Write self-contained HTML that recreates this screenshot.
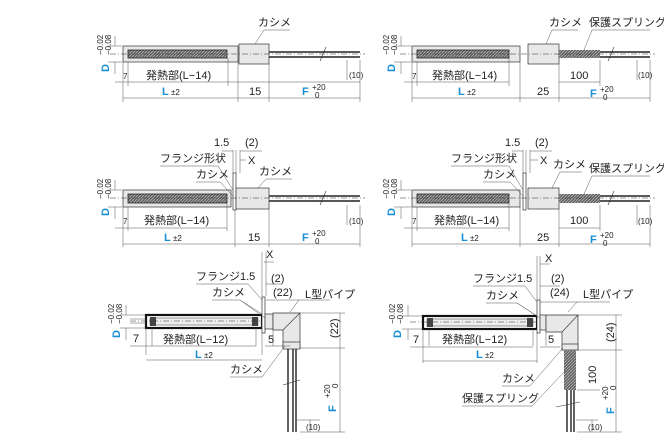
<!DOCTYPE html>
<html><head><meta charset="utf-8"><style>
html,body{margin:0;padding:0;background:#fff;}
svg{display:block;font-family:"Liberation Sans","Noto Sans CJK JP",sans-serif;}
text{font-size:11px;fill:#222;}
.b{fill:#1a8fd6;font-weight:bold;}
.s{font-size:8px;}
.l{stroke:#333;stroke-width:0.6;fill:none;}
.d{stroke:#555;stroke-width:0.5;fill:none;}
.c{stroke:#333;stroke-width:0.5;stroke-dasharray:6 2 1 2;fill:none;}
.g{fill:#e8e8e8;stroke:#333;stroke-width:0.7;}
.k{fill:#444;}
</style></head><body>
<svg width="664" height="447" viewBox="0 0 664 447">
<defs>
<pattern id="h" width="3" height="3" patternUnits="userSpaceOnUse"><rect width="3" height="3" fill="#666"/><path d="M0 3L3 0" stroke="#ccc" stroke-width="0.6"/></pattern>
<marker id="a" markerWidth="6" markerHeight="4" refX="6" refY="2" orient="auto"><path d="M0 0L6 2L0 4z" fill="#444"/></marker>
</defs>

<!-- ============ Panel 1 ============ -->
<g>
<rect x="123" y="46" width="115" height="16" class="g"/>
<rect x="128" y="50" width="99" height="8" fill="url(#h)" stroke="#222" stroke-width="0.8"/>
<rect x="239" y="44" width="30" height="20" class="g"/>
<line x1="269" y1="52" x2="360" y2="52" stroke="#222" stroke-width="1.6"/>
<line x1="269" y1="57" x2="360" y2="57" stroke="#222" stroke-width="1.6"/>
<line x1="110" y1="54" x2="365" y2="54" class="c"/>
<path d="M326 47L320 61" class="l"/>
<text x="258" y="26">カシメ</text><path d="M290 30H264L255 44" class="d"/>
<path d="M123 62V102M128 62V86M228 58V86M238 62V102M269 64V102M360 60V102M347 60V80" class="d"/>
<path d="M115 82H360M123 98H360" class="d"/>
<text x="123" y="79" class="s">7</text>
<text x="146" y="79">発熱部(L−14)</text>
<text x="162" y="95" class="b">L</text><text x="171" y="95" class="s">±2</text>
<text x="249" y="95">15</text>
<text x="302" y="95" class="b">F</text><text x="312" y="90" class="s">+20</text><text x="315" y="98" class="s">0</text>
<text x="349" y="78" class="s">(10)</text>
<path d="M108 46H122M108 62H122M115 36V46M115 62V74" class="d"/>
<text transform="translate(109,72) rotate(-90)" class="b">D</text>
<text transform="translate(103,55) rotate(-90)" class="s">−0.02</text>
<text transform="translate(111,55) rotate(-90)" class="s">−0.08</text>
</g>

<!-- ============ Panel 2 ============ -->
<g>
<rect x="412" y="46" width="108" height="16" class="g"/>
<rect x="417" y="50" width="92" height="8" fill="url(#h)" stroke="#222" stroke-width="0.8"/>
<rect x="528" y="44" width="31" height="20" class="g"/>
<rect x="559" y="50" width="41" height="8" fill="url(#h)"/>
<line x1="600" y1="52" x2="650" y2="52" stroke="#222" stroke-width="1.6"/>
<line x1="600" y1="57" x2="650" y2="57" stroke="#222" stroke-width="1.6"/>
<line x1="400" y1="54" x2="655" y2="54" class="c"/>
<path d="M614 47L608 61" class="l"/>
<text x="549" y="26">カシメ</text><text x="589" y="26">保護スプリング</text>
<path d="M578 30H552L546 44M650 30H592L584 50" class="d"/>
<path d="M412 62V102M417 62V86M509 58V86M520 62V102M559 64V102M600 60V86M650 60V102M637 60V80" class="d"/>
<path d="M404 82H509M559 82H600M412 98H650" class="d"/>
<text x="412" y="79" class="s">7</text>
<text x="432" y="79">発熱部(L−14)</text>
<text x="570" y="79">100</text>
<text x="458" y="95" class="b">L</text><text x="467" y="95" class="s">±2</text>
<text x="537" y="95">25</text>
<text x="590" y="97" class="b">F</text><text x="600" y="92" class="s">+20</text><text x="603" y="100" class="s">0</text>
<text x="638" y="78" class="s">(10)</text>
<path d="M394 46H411M394 62H411M401 36V46M401 62V74" class="d"/>
<text transform="translate(395,72) rotate(-90)" class="b">D</text>
<text transform="translate(389,55) rotate(-90)" class="s">−0.02</text>
<text transform="translate(397,55) rotate(-90)" class="s">−0.08</text>
</g>

<!-- ============ Panel 3 ============ -->
<g>
<rect x="123" y="190" width="108" height="17" class="g"/>
<rect x="128" y="194" width="99" height="9" fill="url(#h)" stroke="#222" stroke-width="0.8"/>
<rect x="233" y="173" width="3" height="37" fill="#fff" stroke="#333" stroke-width="0.7"/>
<rect x="236" y="188" width="33" height="21" class="g"/>
<line x1="269" y1="196" x2="360" y2="196" stroke="#222" stroke-width="1.6"/>
<line x1="269" y1="201" x2="360" y2="201" stroke="#222" stroke-width="1.6"/>
<line x1="110" y1="198" x2="365" y2="198" class="c"/>
<path d="M326 191L320 205" class="l"/>
<text x="214" y="146">1.5</text><text x="245" y="146">(2)</text>
<path d="M233 150V173M236 150V173M240 150V173M222 151H233M240 151H262" class="d"/>
<text x="248" y="164">X</text><path d="M246 160H240" class="d"/>
<text x="160" y="162">フランジ形状</text><text x="196" y="178">カシメ</text>
<text x="259" y="175">カシメ</text>
<path d="M160 166H218L233 190M196 182H220L233 196M292 179H266L258 188" class="d"/>
<path d="M123 207V247M128 207V231M227 203V231M235 210V247M269 209V247M360 205V247M347 205V225" class="d"/>
<path d="M115 228H227M123 244H360" class="d"/>
<text x="123" y="224" class="s">7</text>
<text x="144" y="224">発熱部(L−14)</text>
<text x="164" y="241" class="b">L</text><text x="173" y="241" class="s">±2</text>
<text x="248" y="241">15</text>
<text x="302" y="241" class="b">F</text><text x="312" y="236" class="s">+20</text><text x="315" y="244" class="s">0</text>
<text x="349" y="224" class="s">(10)</text>
</g>

<!-- ============ Panel 4 ============ -->
<g>
<rect x="412" y="190" width="108" height="17" class="g"/>
<rect x="417" y="194" width="92" height="9" fill="url(#h)" stroke="#222" stroke-width="0.8"/>
<rect x="523" y="173" width="3" height="37" fill="#fff" stroke="#333" stroke-width="0.7"/>
<rect x="528" y="188" width="31" height="21" class="g"/>
<rect x="559" y="194" width="41" height="9" fill="url(#h)"/>
<line x1="600" y1="196" x2="650" y2="196" stroke="#222" stroke-width="1.6"/>
<line x1="600" y1="201" x2="650" y2="201" stroke="#222" stroke-width="1.6"/>
<line x1="400" y1="198" x2="655" y2="198" class="c"/>
<path d="M614 191L608 205" class="l"/>
<text x="505" y="146">1.5</text><text x="535" y="146">(2)</text>
<path d="M523 150V173M526 150V173M530 150V173M512 151H523M530 151H552" class="d"/>
<text x="540" y="164">X</text><path d="M538 160H530" class="d"/>
<text x="451" y="162">フランジ形状</text><text x="483" y="178">カシメ</text>
<text x="553" y="168">カシメ</text><text x="589" y="172">保護スプリング</text>
<path d="M451 166H509L523 190M483 182H510L523 196M582 172H560L552 188M650 176H592L584 194" class="d"/>
<path d="M412 207V247M417 207V231M509 203V231M520 207V247M559 209V247M600 205V231M650 205V247M637 205V225" class="d"/>
<path d="M404 228H509M559 228H600M412 244H650" class="d"/>
<text x="412" y="224" class="s">7</text>
<text x="434" y="224">発熱部(L−14)</text>
<text x="570" y="224">100</text>
<text x="461" y="241" class="b">L</text><text x="470" y="241" class="s">±2</text>
<text x="537" y="241">25</text>
<text x="590" y="243" class="b">F</text><text x="600" y="238" class="s">+20</text><text x="603" y="246" class="s">0</text>
<text x="638" y="224" class="s">(10)</text>
<path d="M394 190H411M394 207H411M401 180V190M401 207V219" class="d"/>
<text transform="translate(395,216) rotate(-90)" class="b">D</text>
<text transform="translate(389,199) rotate(-90)" class="s">−0.02</text>
<text transform="translate(397,199) rotate(-90)" class="s">−0.08</text>
<path d="M108 190H122M108 207H122M115 180V190M115 207V219" class="d"/>
<text transform="translate(109,216) rotate(-90)" class="b">D</text>
<text transform="translate(103,199) rotate(-90)" class="s">−0.02</text>
<text transform="translate(111,199) rotate(-90)" class="s">−0.08</text>
</g>

<!-- ============ Panel 5 ============ -->
<g>
<rect x="146" y="315" width="116" height="13" fill="#fff" stroke="#111" stroke-width="2.2"/>
<rect x="150" y="318" width="108" height="7" fill="#eee" stroke="#333" stroke-width="0.5"/>
<rect x="150" y="317" width="6" height="9" class="k"/><rect x="252" y="317" width="6" height="9" class="k"/>
<line x1="130" y1="321" x2="300" y2="321" class="c"/>
<rect x="262" y="297" width="3" height="36" fill="#fff" stroke="#333" stroke-width="0.7"/>
<rect x="265" y="314" width="8" height="15" class="g"/>
<path d="M273 313H300V348H283V330H273Z" class="g"/>
<path d="M283 330L300 313" class="l"/>
<rect x="283" y="342" width="17" height="7" class="g"/>
<path d="M288 349V432M293 349V432M296 349V432" stroke="#222" stroke-width="1.4"/>
<path d="M283 385L300 380" class="l"/>
<text x="266" y="258">X</text><path d="M262 252V297M266 252V296M264 262H274" class="d"/>
<text x="196" y="280">フランジ1.5</text><text x="271" y="282">(2)</text><text x="273" y="296">(22)</text>
<text x="212" y="296">カシメ</text><text x="305" y="298">L型パイプ</text>
<path d="M196 284H248L262 300M212 300H240L265 318M240 300L262 314M300 300H330M266 284H282M266 300H300M299 300L290 312" class="d"/>
<path d="M300 313H345M300 348H345M340 313V432M300 432H345" class="d"/>
<text transform="translate(338,338) rotate(-90)">(22)</text>
<text transform="translate(336,412) rotate(-90)" class="b">F</text><text transform="translate(330,398) rotate(-90)" class="s">+20</text><text transform="translate(338,388) rotate(-90)" class="s">0</text>
<path d="M296 420H320M310 420V432" class="d"/><text x="306" y="430" class="s">(10)</text>
<path d="M146 328V355M152 328V346M256 328V346M262 333V355M273 329V346" class="d"/>
<path d="M130 346H256M265 346H290M146 360H262" class="d"/>
<text x="133" y="342">7</text><text x="163" y="343">発熱部(L−12)</text><text x="268" y="343">5</text>
<text x="195" y="358" class="b">L</text><text x="204" y="358" class="s">±2</text>
<text x="230" y="373">カシメ</text><path d="M230 377H262L285 346" class="d"/>
<path d="M130 319H146M130 323H146" class="d"/>
</g>

<!-- ============ Panel 6 ============ -->
<g>
<rect x="423" y="316" width="114" height="13" fill="#fff" stroke="#111" stroke-width="2.2"/>
<rect x="427" y="319" width="106" height="7" fill="#eee" stroke="#333" stroke-width="0.5"/>
<rect x="427" y="318" width="6" height="9" class="k"/><rect x="527" y="318" width="6" height="9" class="k"/>
<line x1="410" y1="322" x2="578" y2="322" class="c"/>
<rect x="537" y="300" width="3" height="33" fill="#fff" stroke="#333" stroke-width="0.7"/>
<rect x="540" y="315" width="6" height="15" class="g"/>
<path d="M546 315H578V350H562V332H546Z" class="g"/>
<path d="M562 332L578 315" class="l"/>
<rect x="562" y="344" width="16" height="6" class="g"/>
<rect x="564" y="350" width="12" height="40" fill="url(#h)"/>
<path d="M567 390V432M571 390V432M574 390V432" stroke="#222" stroke-width="1.4"/>
<path d="M556 407L580 402" class="l"/>
<text x="545" y="262">X</text><path d="M537 256V300M540 256V300M540 264H550" class="d"/>
<text x="473" y="282">フランジ1.5</text><text x="551" y="282">(2)</text><text x="550" y="296">(24)</text>
<text x="486" y="299">カシメ</text><text x="583" y="298">L型パイプ</text>
<path d="M473 286H525L537 302M486 303H517L540 318M517 303L537 316M578 302H610M540 286H560M540 302H578M577 302L568 312" class="d"/>
<path d="M578 315H622M578 350H622M616 315V432M577 432H622M577 390H600" class="d"/>
<text transform="translate(614,342) rotate(-90)">(24)</text>
<text transform="translate(596,384) rotate(-90)">100</text>
<text transform="translate(614,414) rotate(-90)" class="b">F</text><text transform="translate(608,400) rotate(-90)" class="s">+20</text><text transform="translate(616,390) rotate(-90)" class="s">0</text>
<path d="M576 420H598M592 420V432" class="d"/><text x="588" y="430" class="s">(10)</text>
<path d="M423 329V363M429 329V346M533 329V346M537 333V363M546 330V346" class="d"/>
<path d="M410 347H533M540 347H560M423 361H537" class="d"/>
<text x="413" y="343">7</text><text x="442" y="343">発熱部(L−12)</text><text x="548" y="343">5</text>
<text x="476" y="358" class="b">L</text><text x="485" y="358" class="s">±2</text>
<text x="502" y="382">カシメ</text><text x="462" y="402">保護スプリング</text>
<path d="M502 386H530L563 348M462 406H532L566 370" class="d"/>
<path d="M402 316H422M402 329H422M408 305V316M408 329V340" class="d"/>
<text transform="translate(401,338) rotate(-90)" class="b">D</text>
<text transform="translate(395,324) rotate(-90)" class="s">−0.02</text>
<text transform="translate(403,324) rotate(-90)" class="s">−0.08</text>
<path d="M120 315H145M120 328H145M126 305V315M126 328V340" class="d"/>
<text transform="translate(120,338) rotate(-90)" class="b">D</text>
<text transform="translate(114,324) rotate(-90)" class="s">−0.02</text>
<text transform="translate(122,324) rotate(-90)" class="s">−0.08</text>
</g>
</svg>
</body></html>
